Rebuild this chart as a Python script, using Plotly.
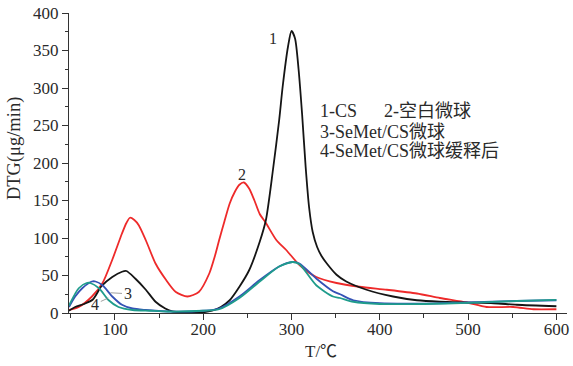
import plotly.graph_objects as go

# ---- data ----
cs_x = [48, 55, 65, 75, 85, 97, 108, 113, 123, 135, 146, 157, 165, 180, 200, 210, 220, 230, 241, 252,
        264, 271, 279, 286, 290, 296, 300, 304, 308, 312, 316, 320, 324, 329, 334, 340, 351, 362, 385,
        415, 442, 468, 498, 529, 555, 600]
cs_y = [3, 8, 12, 18, 36, 48, 55, 56, 46, 31, 15, 6, 2, 1, 1, 3, 8, 17, 35, 57,
        95, 124, 191, 257, 302, 355, 376, 366, 325, 265, 195, 140, 108, 88, 76, 66, 51, 42, 31,
        22, 17, 15, 14, 13, 11, 9]

blank_x = [48, 59, 74, 86, 97, 108, 113, 117, 122, 127, 135, 146, 158, 169, 182, 195, 207, 213, 218,
           224, 230, 236, 241, 246, 252, 258, 264, 271, 283, 294, 309, 328, 351, 377, 408, 442, 468,
           498, 521, 551, 574, 600]
blank_y = [4, 8, 22, 40, 71, 106, 120, 127, 124, 117, 97, 66, 44, 28, 22, 28, 53, 75, 97,
           122, 146, 162, 171, 174, 166, 150, 132, 120, 97, 84, 64, 48, 40, 35, 31, 26, 20,
           14, 8, 8, 5, 5]

semet_x = [48, 55, 63, 74, 78, 86, 97, 108, 120, 135, 160, 200, 218, 241, 264, 286, 301, 309, 328,
           347, 355, 370, 400, 450, 500, 555, 600]
semet_y = [8, 22, 33, 42, 42, 37, 22, 11, 6, 4, 2, 3, 6, 22, 44, 62, 68, 66, 46,
           29, 25, 17, 13, 12.5, 14, 16, 17]

release_x = [48, 59, 68, 72, 82, 93, 104, 120, 140, 160, 200, 218, 241, 264, 286, 301, 309, 328,
             347, 355, 370, 400, 450, 500, 555, 600]
release_y = [10, 33, 40, 40, 33, 17, 8, 4, 3, 2, 3, 5, 20, 42, 62, 68, 65, 37,
             22, 20, 15, 12, 12, 13.5, 16, 17.5]

x_ticks = [100, 200, 300, 400, 500, 600]
y_ticks = [0, 50, 100, 150, 200, 250, 300, 350, 400]

legend_lines = ["1-CS", "2-空白微球", "3-SeMet/CS微球", "4-SeMet/CS微球缓释后"]

FONT = "Liberation Serif, Times New Roman, Noto Sans CJK SC, serif"
TXT = "#2a2a2a"

fig = go.Figure()
series = [
    (blank_x, blank_y, "#ee2a2a"),
    (cs_x, cs_y, "#151515"),
    (semet_x, semet_y, "#3552b5"),
    (release_x, release_y, "#1f9c8c"),
]
for xs, ys, col in series:
    fig.add_trace(go.Scatter(x=xs, y=ys, mode="lines",
                             line=dict(color=col, width=1.8, shape="spline", smoothing=0.7),
                             showlegend=False, hoverinfo="skip"))

ann = []
# curve labels
ann.append(dict(x=279, y=366, text="1", showarrow=False, xref="x", yref="y"))
ann.append(dict(x=243.5, y=185, text="2", showarrow=False, xref="x", yref="y"))
ann.append(dict(x=95, y=27, text="3", showarrow=True, arrowhead=0, arrowwidth=0.8,
                arrowcolor="#888", ax=17, ay=1, xref="x", yref="y"))
ann.append(dict(x=92.5, y=20, text="4", showarrow=True, arrowhead=0, arrowwidth=0.8,
                arrowcolor="#888", ax=-13, ay=6, xref="x", yref="y"))
# legend text block
LF = dict(size=18)
ann.append(dict(x=330, y=270, text=legend_lines[0], showarrow=False, xanchor="left", xref="x", yref="y", font=LF))
ann.append(dict(x=403, y=270, text=legend_lines[1], showarrow=False, xanchor="left", xref="x", yref="y", font=LF))
ann.append(dict(x=330, y=242, text=legend_lines[2], showarrow=False, xanchor="left", xref="x", yref="y", font=LF))
ann.append(dict(x=330, y=215.5, text=legend_lines[3], showarrow=False, xanchor="left", xref="x", yref="y", font=LF))
# axis titles
ann.append(dict(x=0.506, y=-0.13, text="T/℃", showarrow=False, xref="paper", yref="paper",
                xanchor="center", yanchor="middle", font=dict(size=17)))
ann.append(dict(x=-0.108, y=0.547, text="DTG(μg/min)", showarrow=False, xref="paper", yref="paper",
                xanchor="center", yanchor="middle", textangle=-90, font=dict(size=18.5)))

fig.update_layout(
    width=573, height=366,
    margin=dict(l=69, r=6, t=13, b=53, autoexpand=False),
    paper_bgcolor="white", plot_bgcolor="white",
    font=dict(family=FONT, size=16, color=TXT),
    annotations=ann,
)
fig.update_xaxes(range=[48, 612], tickvals=x_ticks, showgrid=False, zeroline=False, automargin=False,
                 showline=True, linecolor="#333", linewidth=1.3, ticklabeloverflow="allow",
                 ticks="outside", ticklen=6, tickcolor="#333", tickwidth=1.2, ticklabelstandoff=-6,
                 minor=dict(dtick=50, tick0=0, ticks="outside", ticklen=4, tickcolor="#333", tickwidth=1.2),
                 tickfont=dict(size=17, family=FONT, color=TXT))
fig.update_yaxes(range=[0, 400], tickvals=y_ticks, showgrid=False, zeroline=False, automargin=False,
                 showline=True, linecolor="#333", linewidth=1.3, ticklabeloverflow="allow",
                 ticks="outside", ticklen=6, tickcolor="#333", tickwidth=1.2,
                 minor=dict(dtick=25, tick0=0, ticks="outside", ticklen=3, tickcolor="#333", tickwidth=1.2),
                 tickfont=dict(size=17, family=FONT, color=TXT))

fig.write_html("out.html", config={"displayModeBar": False},
               post_script="document.body.style.margin='0';")
